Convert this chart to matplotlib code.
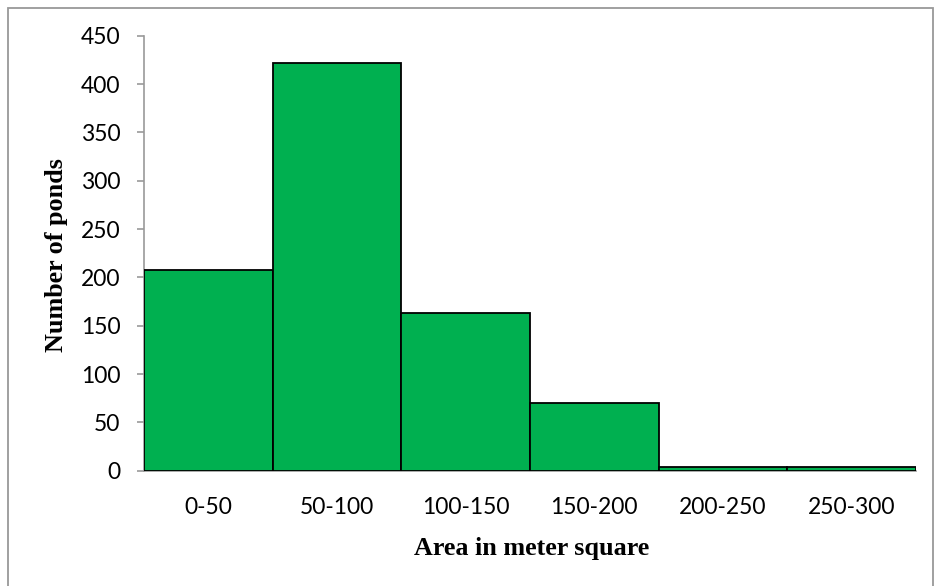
import matplotlib
matplotlib.use("Agg")
import matplotlib.pyplot as plt
from matplotlib.patches import Rectangle

categories = ["0-50", "50-100", "100-150", "150-200", "200-250", "250-300"]
counts = [208, 422, 163, 70, 4, 4]
yticks = [0, 50, 100, 150, 200, 250, 300, 350, 400, 450]

W, H = 934, 586
fig = plt.figure(figsize=(W/100, H/100), dpi=100)
ax = fig.add_axes([144/W, 1-470.7/H, (916-144)/W, (470.7-35.7)/H])

ax.bar(range(len(categories)), counts, width=1.0, color="#00B050",
       edgecolor="black", linewidth=1.3, zorder=3)
ax.set_xlim(-0.5, len(categories)-0.5)
ax.set_ylim(0, 450)
ax.set_yticks(yticks)
ax.set_xticks(range(len(categories)))
ax.set_xticklabels(categories)

for s in ["top", "right"]:
    ax.spines[s].set_visible(False)
for s in ["left", "bottom"]:
    ax.spines[s].set_color("#999999")
    ax.spines[s].set_linewidth(1.2)

ax.tick_params(axis="y", direction="out", length=5, width=1.2, color="#999999",
               pad=12, labelsize=16.5)
ax.tick_params(axis="x", length=0, pad=19, labelsize=16.5)
for lab in ax.get_xticklabels() + ax.get_yticklabels():
    lab.set_fontfamily("Lato")

fig.text(532/W, 1-549/H, "Area in meter square", ha="center", va="center",
         fontfamily="Liberation Serif", fontweight="bold", fontsize=18.8)
fig.text(56/W, 1-255/H, "Number of ponds", ha="center", va="center", rotation=90,
         fontfamily="Liberation Serif", fontweight="bold", fontsize=18.8)

# outer frame
fig.patches.append(Rectangle((8/W, -0.05), (933-8)/W, 1.05-8/H, transform=fig.transFigure,
                             fill=False, edgecolor="#999999", linewidth=1.3))

fig.savefig("out.png", dpi=100, facecolor="white")
